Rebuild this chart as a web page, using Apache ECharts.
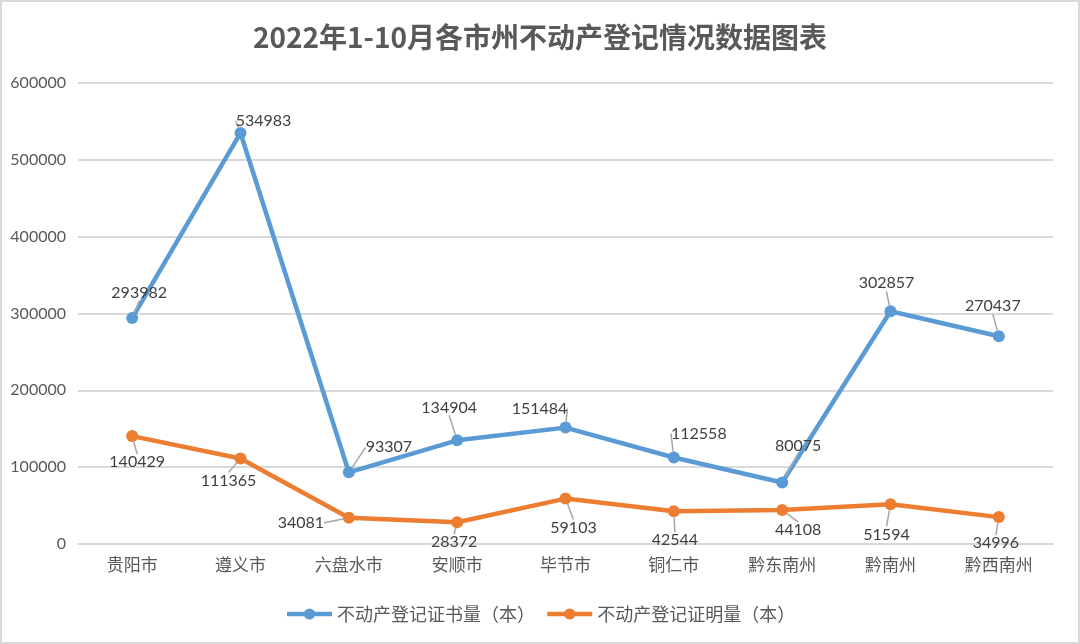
<!DOCTYPE html>
<html>
<head>
<meta charset="utf-8">
<title>2022年1-10月各市州不动产登记情况数据图表</title>
<script src="https://cdn.jsdelivr.net/npm/echarts@6/dist/echarts.min.js"></script>
<style>
    html, body { margin: 0; padding: 0; background: #fff; }
    #chartBox { width: 1080px; height: 644px; box-sizing: border-box; border: 2px solid #d9d9d9; }
</style>
</head>
<body>
<div id="chartBox"></div>
<script>
var cityNames = ['贵阳市', '遵义市', '六盘水市', '安顺市', '毕节市', '铜仁市', '黔东南州', '黔南州', '黔西南州'];
var bookCounts = [293982, 534983, 93307, 134904, 151484, 112558, 80075, 302857, 270437];//不动产登记证书量
var proofCounts = [140429, 111365, 34081, 28372, 59103, 42544, 44108, 51594, 34996];//不动产登记证明量
var yTicks = [0, 100000, 200000, 300000, 400000, 500000, 600000];

//数据标签相对点的偏移(像素)
var bookLabelShift = [[7, -25], [23, -12], [40, -25], [-8, -33], [-26, -19], [25, -24], [16, -37], [-4, -28], [-6, -30]];
var proofLabelShift = [[5, 26], [-12, 22], [-48, 5], [-3, 20], [8, 29], [1, 29], [16, 20], [-4, 30], [-3, 26]];

var textFont = 'Lato, "Noto Sans CJK SC", sans-serif';
var gray = '#595959';

function makeLayout(shift) {
    return function (params) {
        var s = shift[params.dataIndex];
        return {dx: s[0], dy: s[1]};
    };
}

function makeSeries(name, data, color, shift) {
    return {
        name: name,
        type: 'line',
        data: data,
        symbol: 'circle',
        symbolSize: 12,
        lineStyle: {width: 4.5, color: color},
        itemStyle: {color: color},
        label: {
            show: true,
            position: 'inside',
            color: '#404040',
            fontSize: 16,
            fontFamily: textFont
        },
        labelLayout: makeLayout(shift),
        labelLine: {show: true, lineStyle: {color: '#a6a6a6', width: 1.5}},
        emphasis: {disabled: true}
    };
}

var chart = echarts.init(document.getElementById('chartBox'));
chart.setOption({
    animation: false,
    backgroundColor: '#fff',
    title: {
        text: '2022年1-10月各市州不动产登记情况数据图表',
        left: 'center',
        top: 16,
        textStyle: {fontSize: 28, fontWeight: 'bold', color: gray, fontFamily: '"Noto Sans CJK SC", sans-serif'}
    },
    legend: {
        bottom: 14,
        left: 'center',
        itemWidth: 45,
        itemHeight: 14,
        itemGap: 10,
        lineStyle: {width: 4.5},
        textStyle: {fontSize: 18, color: gray, fontFamily: '"Noto Sans CJK SC", sans-serif'},
        data: ['不动产登记证书量（本）', '不动产登记证明量（本）']
    },
    grid: {left: 76, right: 25, top: 81, bottom: 98},
    xAxis: {
        type: 'category',
        data: cityNames,
        axisLine: {lineStyle: {color: '#d9d9d9', width: 2}},
        axisTick: {show: false},
        axisLabel: {fontSize: 17, color: gray, margin: 12, fontFamily: '"Noto Sans CJK SC", serif'}
    },
    yAxis: {
        type: 'value',
        min: yTicks[0],
        max: yTicks[yTicks.length - 1],
        interval: yTicks[1] - yTicks[0],
        axisLine: {show: false},
        axisTick: {show: false},
        splitLine: {lineStyle: {color: '#d9d9d9', width: 2}},
        axisLabel: {fontSize: 16, color: gray, margin: 12, fontFamily: textFont, formatter: function (v) { return String(v); }}
    },
    series: [
        makeSeries('不动产登记证书量（本）', bookCounts, '#5b9bd5', bookLabelShift),
        makeSeries('不动产登记证明量（本）', proofCounts, '#ed7d31', proofLabelShift)
    ]
});
</script>
</body>
</html>
